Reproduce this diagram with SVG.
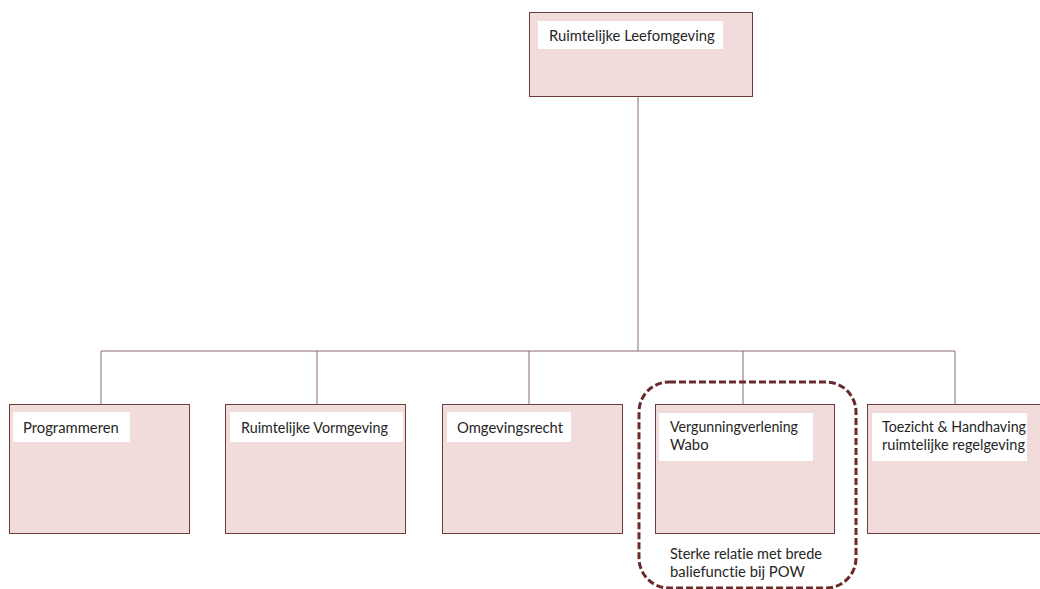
<svg xmlns="http://www.w3.org/2000/svg" width="1040" height="589" viewBox="0 0 1040 589">
<style>
.box{fill:#f2dcdb;stroke:#6e3b3b;stroke-width:1}
.lbl{fill:#ffffff;stroke:none}
.t{font-family:Lato,"Open Sans","Liberation Sans",sans-serif;font-size:14.8px;fill:#262626;font-variant-ligatures:none}
.c{fill:none;stroke:#8a6a6a;stroke-width:1}
</style>
<rect width="1040" height="589" fill="#ffffff"/>
<g id="connectors">
<path class="c" d="M638 96V351M101 351H955M101 351V404M317 351V404M529 351V404M743 351V404M955 351V404"/>
</g>
<g id="node-top">
<rect class="box" x="529.5" y="12.5" width="223" height="84"/>
<rect class="lbl" x="538" y="21" width="185" height="28"/>
<text class="t" x="549" y="41">Ruimtelijke Leefomgeving</text>
</g>
<g id="node-programmeren">
<rect class="box" x="9.5" y="404.5" width="180" height="129"/>
<rect class="lbl" x="13" y="412" width="117" height="30"/>
<text class="t" x="23" y="433">Programmeren</text>
</g>
<g id="node-vormgeving">
<rect class="box" x="225.5" y="404.5" width="180" height="129"/>
<rect class="lbl" x="230" y="412" width="173" height="30"/>
<text class="t" x="241" y="433" textLength="147" lengthAdjust="spacingAndGlyphs">Ruimtelijke Vormgeving</text>
</g>
<g id="node-omgevingsrecht">
<rect class="box" x="442.5" y="404.5" width="180" height="129"/>
<rect class="lbl" x="447" y="412" width="124" height="30"/>
<text class="t" x="457" y="433">Omgevingsrecht</text>
</g>
<g id="node-vergunning">
<rect class="box" x="655.5" y="404.5" width="179" height="129"/>
<rect class="lbl" x="659" y="413" width="154" height="48"/>
<text class="t" x="670" y="432" textLength="128" lengthAdjust="spacingAndGlyphs">Vergunningverlening</text>
<text class="t" x="670" y="450">Wabo</text>
<text class="t" x="670" y="559" textLength="152" lengthAdjust="spacingAndGlyphs">Sterke relatie met brede</text>
<text class="t" x="670" y="577">baliefunctie bij POW</text>
</g>
<g id="node-toezicht">
<rect class="box" x="867.5" y="404.5" width="180" height="129"/>
<rect class="lbl" x="872" y="413" width="155" height="48"/>
<text class="t" x="882" y="432" textLength="144" lengthAdjust="spacingAndGlyphs">Toezicht &amp; Handhaving</text>
<text class="t" x="882" y="450" textLength="143" lengthAdjust="spacingAndGlyphs">ruimtelijke regelgeving</text>
</g>
<g id="highlight">
<rect x="639" y="382" width="217" height="206" rx="30" ry="30" fill="none" stroke="#6b2a2a" stroke-width="3" stroke-dasharray="7 3"/>
</g>
</svg>
